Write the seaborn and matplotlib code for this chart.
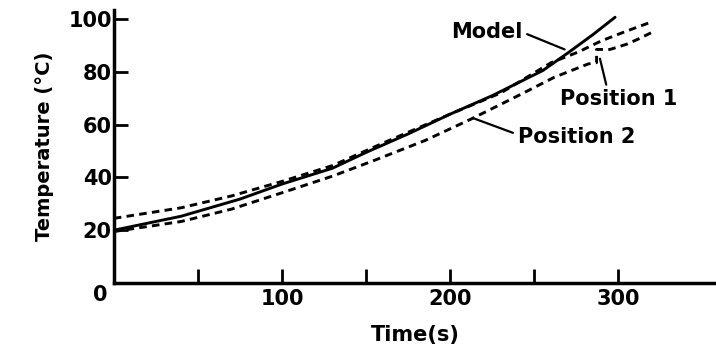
import seaborn as sns
import pandas as pd
import matplotlib.pyplot as plt

# values
time_model = [0, 40, 75, 100, 130, 150, 175, 200, 225, 255, 270, 285, 298]
temp_model = [20, 25.3, 31.8, 37.5, 43.5, 49.5, 56.5, 64, 71, 80.5, 87.2, 94.2, 100.7]

time_pos1 = [0, 40, 70, 100, 130, 160, 200, 230, 260, 276, 290, 305, 320]
temp_pos1 = [24.5, 28.5, 33, 38.5, 44.5, 53, 64, 72, 83.5, 87.5, 91.8, 95.5, 99]

time_pos2 = [0, 40, 70, 100, 130, 155, 185, 212, 242, 262, 282, 287, 287, 295, 305, 312, 320]
temp_pos2 = [19.5, 23.3, 28, 34.2, 40.5, 46.5, 54, 62, 71.5, 78, 83, 83.5, 88.5, 88.5, 90.5, 92.5, 95]

x_ticks = [50, 100, 150, 200, 250, 300]
x_ticklabels = ['', '100', '', '200', '', '300']
y_ticks = [20, 40, 60, 80, 100]

sns.set_style('ticks')
plt.rcParams['font.family'] = ['DejaVu Sans']
plt.rcParams['font.weight'] = 'bold'
plt.rcParams['text.color'] = 'black'
plt.rcParams['axes.labelcolor'] = 'black'
plt.rcParams['axes.edgecolor'] = 'black'
plt.rcParams['xtick.color'] = 'black'
plt.rcParams['ytick.color'] = 'black'

df = pd.concat([
    pd.DataFrame({'time': time_model, 'temp': temp_model, 'series': 'Model'}),
    pd.DataFrame({'time': time_pos1, 'temp': temp_pos1, 'series': 'Position 1'}),
    pd.DataFrame({'time': time_pos2, 'temp': temp_pos2, 'series': 'Position 2'}),
], ignore_index=True)

fig = plt.figure(figsize=(7.16, 3.52), dpi=100)
ax = fig.add_axes([0.159, 0.196, 0.841, 0.776])

sns.lineplot(data=df, x='time', y='temp', style='series',
             dashes={'Model': '', 'Position 1': (2.6, 1.8), 'Position 2': (2.6, 1.8)},
             color='black', linewidth=2.1, sort=False, estimator=None, legend=False, ax=ax)

ax.set_xlim(0, 358)
ax.set_ylim(0, 103.5)
ax.set_xticks(x_ticks)
ax.set_xticklabels(x_ticklabels)
ax.set_yticks(y_ticks)
ax.tick_params(direction='in', length=10, width=2, labelsize=15, colors='black')
ax.tick_params(axis='y', pad=1.5)
ax.tick_params(axis='x', pad=4)
for lab in ax.get_xticklabels() + ax.get_yticklabels():
    lab.set_fontweight('bold')

sns.despine(ax=ax)
for s in ['left', 'bottom']:
    ax.spines[s].set_linewidth(2.5)
    ax.spines[s].set_color('black')

ax.set_xlabel('Time(s)', fontsize=15, fontweight='bold', labelpad=12)
ax.set_ylabel('Temperature (°C)', fontsize=14, fontweight='bold', labelpad=10)
ax.text(-0.023, -0.045, '0', transform=ax.transAxes, ha='center', va='center',
        fontsize=15, fontweight='bold')

arrow = dict(arrowstyle='-', color='black', lw=1.6, shrinkA=1, shrinkB=0)
ax.annotate('Model', xy=(268, 88.5), xytext=(243, 95), ha='right', va='center',
            fontsize=15, fontweight='bold', arrowprops=dict(arrow, relpos=(1, 0.5)))
ax.annotate('Position 1', xy=(289, 85), xytext=(265.5, 69.6), ha='left', va='center',
            fontsize=15, fontweight='bold', arrowprops=dict(arrow, relpos=(0.4, 1)))
ax.annotate('Position 2', xy=(213.5, 62.5), xytext=(240, 55.5), ha='left', va='center',
            fontsize=15, fontweight='bold', arrowprops=dict(arrow, relpos=(0, 0.6)))

fig.savefig('out.png', dpi=100)
